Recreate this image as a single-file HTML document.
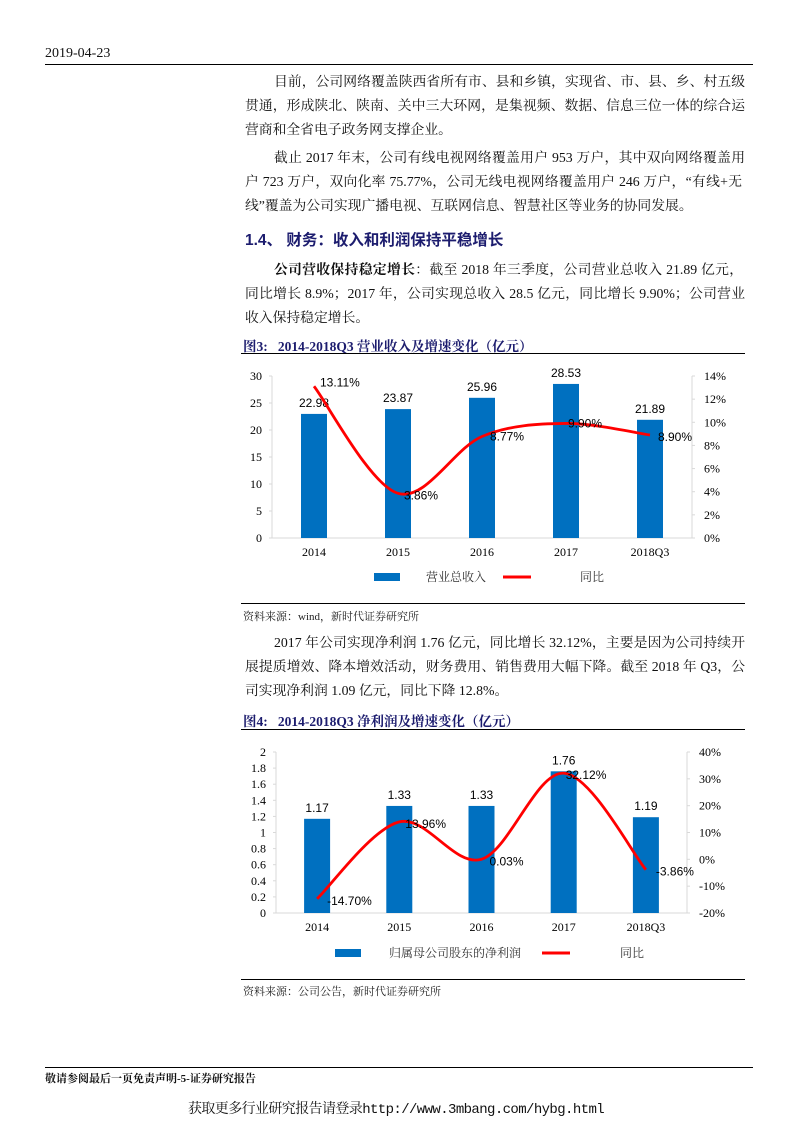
<!DOCTYPE html>
<html><head><meta charset="utf-8">
<style>
body{margin:0;background:#fff;}
#page{position:relative;width:793px;height:1122px;overflow:hidden;background:#fff;font-family:"Liberation Serif","Noto Serif CJK SC",serif;color:#111;}
.t{position:absolute;white-space:nowrap;font-size:13.8px;line-height:16px;}
.j{position:absolute;left:245px;width:500px;font-size:13.8px;line-height:16px;text-align:justify;text-align-last:justify;white-space:nowrap;}
.rule{position:absolute;background:#000;height:1px;}
.cap{position:absolute;left:243px;font-size:13.5px;font-weight:bold;color:#1c1c6e;white-space:nowrap;}
.src{position:absolute;left:243px;font-size:11px;color:#222;white-space:nowrap;}
</style></head><body>
<div id="page">
<div class="t" style="left:45px;top:46px;font-size:14px">2019-04-23</div>
<div class="rule" style="left:45px;top:64px;width:708px"></div>

<div class="j" style="top:74px;left:274px;width:471px">目前，公司网络覆盖陕西省所有市、县和乡镇，实现省、市、县、乡、村五级</div>
<div class="j" style="top:98px">贯通，形成陕北、陕南、关中三大环网，是集视频、数据、信息三位一体的综合运</div>
<div class="t" style="left:245px;top:122px">营商和全省电子政务网支撑企业。</div>

<div class="j" style="top:150px;left:274px;width:471px">截止 2017 年末，公司有线电视网络覆盖用户 953 万户，其中双向网络覆盖用</div>
<div class="j" style="top:174px;width:497px">户 723 万户，双向化率 75.77%，公司无线电视网络覆盖用户 246 万户，“有线+无</div>
<div class="t" style="left:245px;top:198px">线”覆盖为公司实现广播电视、互联网信息、智慧社区等业务的协同发展。</div>

<div class="t" style="left:245px;top:233px;font-size:15.5px;font-weight:bold;color:#1c1c6e;font-family:'Liberation Sans','Noto Sans CJK SC',sans-serif">1.4、 财务：收入和利润保持平稳增长</div>

<div class="j" style="top:262px;left:274px;width:469px"><b>公司营收保持稳定增长</b>：截至 2018 年三季度，公司营业总收入 21.89 亿元，</div>
<div class="j" style="top:286px">同比增长 8.9%；2017 年，公司实现总收入 28.5 亿元，同比增长 9.90%；公司营业</div>
<div class="t" style="left:245px;top:310px">收入保持稳定增长。</div>

<div class="cap" style="top:335px">图3:&nbsp;&nbsp;&nbsp;2014-2018Q3 营业收入及增速变化（亿元）</div>
<div class="rule" style="left:241px;top:353px;width:504px"></div>
<svg id="c1" style="position:absolute;left:0;top:0" width="793" height="1122"></svg>
<div class="rule" style="left:241px;top:603px;width:504px"></div>
<div class="src" style="top:608px">资料来源：wind，新时代证券研究所</div>

<div class="j" style="top:635px;left:274px;width:471px">2017 年公司实现净利润 1.76 亿元，同比增长 32.12%，主要是因为公司持续开</div>
<div class="j" style="top:659px">展提质增效、降本增效活动，财务费用、销售费用大幅下降。截至 2018 年 Q3，公</div>
<div class="t" style="left:245px;top:683px">司实现净利润 1.09 亿元，同比下降 12.8%。</div>

<div class="cap" style="top:710px">图4:&nbsp;&nbsp;&nbsp;2014-2018Q3 净利润及增速变化（亿元）</div>
<div class="rule" style="left:241px;top:729px;width:504px"></div>
<div class="rule" style="left:241px;top:979px;width:504px"></div>
<div class="src" style="top:983px">资料来源：公司公告，新时代证券研究所</div>

<div class="rule" style="left:45px;top:1067px;width:708px"></div>
<div class="t" style="left:45px;top:1071px;font-size:11px;font-weight:bold">敬请参阅最后一页免责声明-5-证券研究报告</div>
<div class="t" style="left:188px;top:1102px;font-size:14px;letter-spacing:-0.6px;font-family:'Liberation Mono','Noto Serif CJK SC',monospace">获取更多行业研究报告请登录http://www.3mbang.com/hybg.html</div>
</div>
<script>
const cats1=["2014","2015","2016","2017","2018Q3"];
const rev=[22.98,23.87,25.96,28.53,21.89];
const revYoy=[13.11,3.86,8.77,9.90,8.90];
const revLeftTicks=[0,5,10,15,20,25,30];
const revRightTicks=[0,2,4,6,8,10,12,14];
const cats2=["2014","2015","2016","2017","2018Q3"];
const prof=[1.17,1.33,1.33,1.76,1.19];
const profYoy=[-14.70,13.96,0.03,32.12,-3.86];
const profLeftTicks=[0,0.2,0.4,0.6,0.8,1,1.2,1.4,1.6,1.8,2];
const profRightTicks=[-20,-10,0,10,20,30,40];

const svg=document.getElementById('c1');
const NS='http://www.w3.org/2000/svg';
const SANS='"Liberation Sans","Noto Sans CJK SC",sans-serif';
const SERIF='"Liberation Serif","Noto Serif CJK SC",serif';
function mk(tag,attrs,name,parent){const e=document.createElementNS(NS,tag);for(const k in attrs)e.setAttribute(k,attrs[k]);


(parent||svg).appendChild(e);return e;}
function txt(x,y,s,name,opt){const e=mk('text',Object.assign({x:x,y:y,'font-size':11.5,fill:'#000','font-family':SANS},opt||{}),name);e.textContent=s;return e;}
function smooth(pts){let d='M'+pts[0][0]+','+pts[0][1];for(let i=0;i<pts.length-1;i++){const p0=pts[i-1]||pts[i],p1=pts[i],p2=pts[i+1],p3=pts[i+2]||p2;const t=1/3;
const c1=[p1[0]+(p2[0]-p0[0])*t/2,p1[1]+(p2[1]-p0[1])*t/2],c2=[p2[0]-(p3[0]-p1[0])*t/2,p2[1]-(p3[1]-p1[1])*t/2];
d+=' C'+c1[0]+','+c1[1]+' '+c2[0]+','+c2[1]+' '+p2[0]+','+p2[1];}return d;}

function chart(o){
 const {x0,x1,y0,y1,cats,vals,yoy,lt,rt,lmin,lmax,rmin,rmax,leg,lname,pctOff}=o;
 const ys=v=>y0-(v-lmin)/(lmax-lmin)*(y0-y1);
 const yr=v=>y0-(v-rmin)/(rmax-rmin)*(y0-y1);
 const step=(x1-x0)/cats.length;const xc=i=>x0+step*(i+0.5);
 mk('line',{x1:x0,y1:y1,x2:x0,y2:y0,stroke:'#d9d9d9'},o.p+'-left-axis');
 mk('line',{x1:x1,y1:y1,x2:x1,y2:y0,stroke:'#d9d9d9'},o.p+'-right-axis');
 mk('line',{x1:x0,y1:y0,x2:x1,y2:y0,stroke:'#d9d9d9'},o.p+'-x-axis');
 lt.forEach(v=>{txt(x0-10,ys(v)+4,String(v),o.p+'-left-tick',{'text-anchor':'end','font-family':SERIF,'font-size':12});mk('line',{x1:x0-3,y1:ys(v),x2:x0,y2:ys(v),stroke:'#d9d9d9'},o.p+'-left-tick-mark');});
 rt.forEach(v=>{txt(x1+12,yr(v)+4,v+'%',o.p+'-right-tick',{'font-family':SERIF,'font-size':12});mk('line',{x1:x1,y1:yr(v),x2:x1+3,y2:yr(v),stroke:'#d9d9d9'},o.p+'-right-tick-mark');});
 cats.forEach((c,i)=>{
  mk('rect',{x:xc(i)-13,y:ys(vals[i]),width:26,height:y0-ys(vals[i]),fill:'#0070c0'},o.p+'-bar-'+c);
  txt(xc(i),y0+18,c,o.p+'-x-label',{'text-anchor':'middle','font-family':SERIF,'font-size':12});
  txt(xc(i),ys(vals[i])-7,vals[i].toFixed(2),o.p+'-bar-value',{'text-anchor':'middle','font-size':12});
 });
 const pts=yoy.map((v,i)=>[xc(i),yr(v)]);
 mk('path',{d:smooth(pts),fill:'none',stroke:'#ff0000','stroke-width':2.8},o.p+'-yoy-line');
 yoy.forEach((v,i)=>txt(pts[i][0]+pctOff[i][0],pts[i][1]+pctOff[i][1],v.toFixed(2)+'%',o.p+'-yoy-label',{'font-size':12}));
 mk('rect',{x:leg[0],y:leg[4]-4,width:26,height:8,fill:'#0070c0'},o.p+'-legend-bar-swatch');
 txt(leg[1],leg[4]+4,lname,o.p+'-legend-bar-text',{'font-family':SERIF,'fill':'#333','font-size':12});
 mk('line',{x1:leg[2],y1:leg[4],x2:leg[2]+28,y2:leg[4],stroke:'#ff0000','stroke-width':3},o.p+'-legend-line-swatch');
 txt(leg[3],leg[4]+4,'同比',o.p+'-legend-line-text',{'font-family':SERIF,'fill':'#333','font-size':12});
}
chart({p:'rev',x0:272,x1:692,y0:538,y1:376,cats:cats1,vals:rev,yoy:revYoy,lt:revLeftTicks,rt:revRightTicks,lmin:0,lmax:30,rmin:0,rmax:14,
 leg:[374,426,503,580,577],lname:'营业总收入',
 pctOff:[[6,0],[6,6],[8,4],[2,4],[8,6]]});
chart({p:'prof',x0:276,x1:687,y0:913,y1:752,cats:cats2,vals:prof,yoy:profYoy,lt:profLeftTicks,rt:profRightTicks,lmin:0,lmax:2,rmin:-20,rmax:40,
 leg:[335,389,542,620,953],lname:'归属母公司股东的净利润',
 pctOff:[[10,6],[6,6],[8,6],[2,6],[10,6]]});
</script>
</body></html>
